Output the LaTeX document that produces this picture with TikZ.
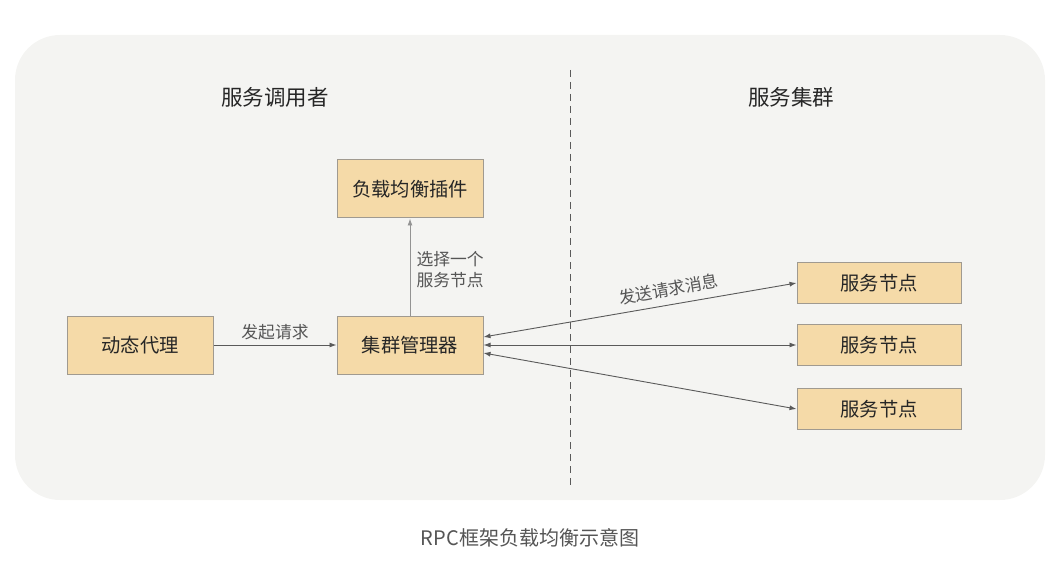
\documentclass[tikz,border=0pt]{standalone}
\usepackage{fontspec}
\setmainfont{Noto Sans CJK SC}
\usetikzlibrary{calc,arrows.meta}
\definecolor{bgpanel}{HTML}{F4F4F2}
\definecolor{boxfill}{HTML}{F5DAA8}
\definecolor{boxline}{HTML}{A09A90}
\definecolor{linkgray}{HTML}{5A5A5A}
\definecolor{txtgray}{HTML}{555555}

\begin{document}
\begin{tikzpicture}[x=1pt,y=-1pt,
			box/.style={draw=boxline,fill=boxfill,line width=1pt,font=\fontsize{19.3}{21}\selectfont,text=black!85},
			mainbox/.style={box,minimum width=146pt,minimum height=58pt},
			srvbox/.style={box,minimum width=164pt,minimum height=41pt},
			link/.style={draw=linkgray,line width=0.9pt,-{Latex[length=7pt,width=5pt]}},
			both/.style={link,{Latex[length=7pt,width=5pt]}-{Latex[length=7pt,width=5pt]}},
			lbl/.style={font=\fontsize{16.8}{21}\selectfont,text=txtgray},
			ttl/.style={font=\fontsize{21.5}{25}\selectfont,text=black!85}]
			
			\useasboundingbox (0,0) rectangle (1059,577);
			
			% Background panel and divider
			\fill[bgpanel,rounded corners=45pt] (15,35) rectangle (1045,500);
			\draw[linkgray,line width=0.9pt,dash pattern=on 7pt off 5pt] (570,70) -- (570,488);
			
			% Titles
			\node[ttl] (caller) at (275,97) {服务调用者};
			\node[ttl] (cluster) at (791,97) {服务集群};
			
			% Caller side
			\node[mainbox] (lb) at (410,189) {负载均衡插件};
			\node[mainbox] (proxy) at (140,345) {动态代理};
			\node[mainbox] (mgr) at (410,345) {集群管理器};
			
			% Cluster side
			\node[srvbox] (srv1) at (879,283) {服务节点};
			\node[srvbox] (srv2) at (879,345) {服务节点};
			\node[srvbox] (srv3) at (879,409) {服务节点};
			
			% Connectors
			\draw[link] (proxy) -- node[lbl,above=1pt]{发起请求} (mgr);
			\draw[link,draw=gray!85] (mgr) -- (lb);
			\node[lbl,align=left,anchor=west] (pick) at (413,270) {选择一个\\服务节点};
			\draw[both] ($(mgr.east)+(0,-8)$) -- node[lbl,sloped,above=4pt,pos=0.6]{发送请求消息} (srv1.west);
			\draw[both] (mgr.east) -- (srv2.west);
			\draw[both] ($(mgr.east)+(0,8)$) -- (srv3.west);
			
			% Caption
			\node[font=\fontsize{20}{24}\selectfont,text=txtgray] (cap) at (530,538) {RPC框架负载均衡示意图};
			
		\end{tikzpicture}
\end{document}
